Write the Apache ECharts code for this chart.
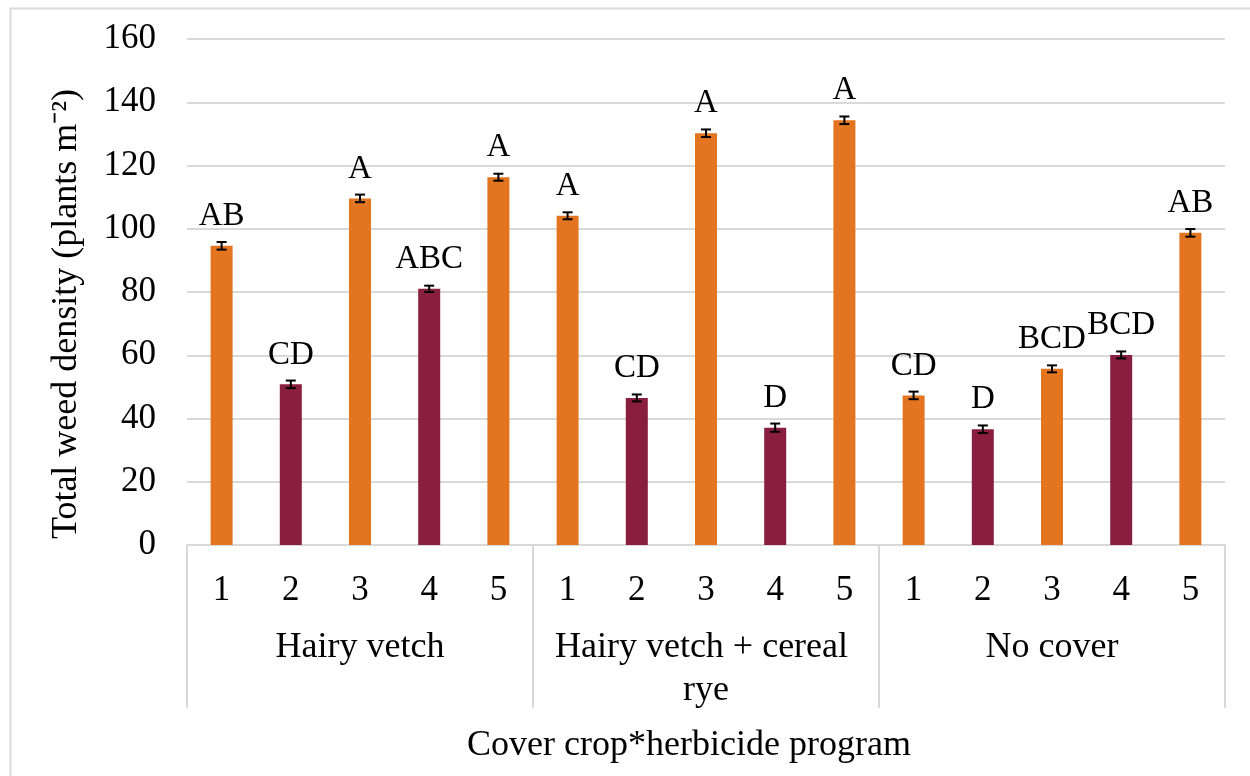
<!DOCTYPE html>
<html>
<head>
<meta charset="utf-8">
<script src="https://cdn.jsdelivr.net/npm/echarts@6/dist/echarts.min.js"></script>
<style>
html,body{margin:0;padding:0;background:#fff;}
#chart{width:1250px;height:776px;}
</style>
</head>
<body>
<div id="chart"></div>
<script>
// ---- data ----
const groups = ['Hairy vetch', 'Hairy vetch + cereal rye', 'No cover'];
const programs = ['1', '2', '3', '4', '5'];
const hairyVetch = [94.6, 50.8, 109.6, 81.0, 116.3];
const hairyVetchRye = [104.1, 46.5, 130.2, 37.1, 134.3];
const noCover = [47.3, 36.6, 55.7, 60.1, 98.7];
const hairyVetchErr = [1.2, 1.2, 1.2, 1.0, 1.1];
const hairyVetchRyeErr = [1.1, 1.1, 1.2, 1.3, 1.2];
const noCoverErr = [1.2, 1.2, 1.1, 1.1, 1.2];
const hairyVetchLetters = ['AB', 'CD', 'A', 'ABC', 'A'];
const hairyVetchRyeLetters = ['A', 'CD', 'A', 'D', 'A'];
const noCoverLetters = ['CD', 'D', 'BCD', 'BCD', 'AB'];
const yTicks = [0, 20, 40, 60, 80, 100, 120, 140, 160];

// ---- derived ----
const categories = groups.flatMap(() => programs);
const values = [].concat(hairyVetch, hairyVetchRye, noCover);
const errs = [].concat(hairyVetchErr, hairyVetchRyeErr, noCoverErr);
const letters = [].concat(hairyVetchLetters, hairyVetchRyeLetters, noCoverLetters);

const ORANGE = '#E37521';
const MAROON = '#8A1E41';
const GRIDC = '#d9d9d9';
const FONT = 'Liberation Serif';

const chart = echarts.init(document.getElementById('chart'), null, {renderer: 'canvas'});
chart.setOption({
  backgroundColor: '#fff',
  animation: false,
  graphic: [{
    type: 'rect', left: 8, top: 6, z: -1,
    shape: {width: 1300, height: 900},
    style: {fill: 'none', stroke: GRIDC, lineWidth: 2}
  }],
  grid: {left: 187, right: 25, top: 39, bottom: 231, containLabel: false},
  xAxis: [{
    type: 'category', position: 'bottom', data: categories,
    axisLine: {show: true, lineStyle: {color: GRIDC, width: 2}},
    axisTick: {show: false},
    axisLabel: {margin: 28, fontFamily: FONT, fontSize: 35, color: '#000', interval: 0},
    name: 'Cover crop*herbicide program', nameLocation: 'middle', nameGap: 183,
    nameTextStyle: {fontFamily: FONT, fontSize: 36, color: '#000', padding: [0, 34, 0, 0]}
  }, {
    type: 'category', position: 'bottom', data: groups,
    axisLine: {show: false},
    axisTick: {show: true, length: 163, lineStyle: {color: GRIDC, width: 2}},
    axisLabel: {margin: 81, fontFamily: FONT, fontSize: 36, color: '#000', interval: 0,
      width: 330, overflow: 'break', lineHeight: 43}
  }],
  yAxis: {
    type: 'value', min: 0, max: 160, interval: 20,
    axisLine: {show: false}, axisTick: {show: false},
    axisLabel: {margin: 31, fontFamily: FONT, fontSize: 35, color: '#000',
      formatter: v => yTicks.includes(v) ? String(v) : ''},
    splitLine: {lineStyle: {color: GRIDC, width: 2}},
    name: 'Total weed density (plants m⁻²)', nameLocation: 'middle', nameRotate: 90, nameGap: 102,
    nameTextStyle: {fontFamily: FONT, fontSize: 36, color: '#000', padding: [0, 44, 0, 0]}
  },
  series: [{
    type: 'bar', xAxisIndex: 0, data: values, barWidth: 22,
    itemStyle: {color: p => (p.dataIndex % 5) % 2 === 0 ? ORANGE : MAROON},
    label: {show: true, position: 'top', distance: 13, fontFamily: FONT, fontSize: 33, color: '#000',
      formatter: p => letters[p.dataIndex]}
  }, {
    type: 'custom', xAxisIndex: 0, z: 5,
    data: values.map((v, i) => [i, v - errs[i], v + errs[i]]),
    renderItem: (params, api) => {
      const x = api.value(0);
      const lo = api.coord([x, api.value(1)]);
      const hi = api.coord([x, api.value(2)]);
      const w = 5;
      const st = {stroke: '#000', lineWidth: 2};
      return {type: 'group', children: [
        {type: 'line', shape: {x1: lo[0], y1: lo[1], x2: hi[0], y2: hi[1]}, style: st},
        {type: 'line', shape: {x1: lo[0] - w, y1: lo[1], x2: lo[0] + w, y2: lo[1]}, style: st},
        {type: 'line', shape: {x1: hi[0] - w, y1: hi[1], x2: hi[0] + w, y2: hi[1]}, style: st}
      ]};
    }
  }]
});
</script>
</body>
</html>
